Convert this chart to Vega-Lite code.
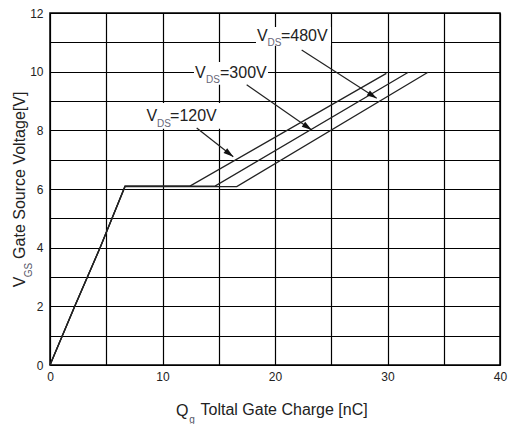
{
  "$schema": "https://vega.github.io/schema/vega-lite/v6.json",
  "autosize": {"type": "none"},
  "padding": {"left": 50, "top": 13, "right": 9, "bottom": 59},
  "width": 450,
  "height": 352,
  "background": "white",
  "config": {
    "view": {"stroke": "#000", "strokeWidth": 1.5},
    "font": "Liberation Sans",
    "text": {"font": "Liberation Sans"}
  },
  "datasets": {
    "curves": [
      {"series": "120V", "Q": 0, "V": 0},
      {"series": "120V", "Q": 2.2, "V": 2.0},
      {"series": "120V", "Q": 4.45, "V": 4.0},
      {"series": "120V", "Q": 6.67, "V": 6.1},
      {"series": "120V", "Q": 12.44, "V": 6.1},
      {"series": "120V", "Q": 29.9, "V": 9.94},
      {"series": "300V", "Q": 0, "V": 0},
      {"series": "300V", "Q": 2.2, "V": 2.0},
      {"series": "300V", "Q": 4.45, "V": 4.0},
      {"series": "300V", "Q": 6.67, "V": 6.1},
      {"series": "300V", "Q": 14.67, "V": 6.1},
      {"series": "300V", "Q": 31.85, "V": 9.98},
      {"series": "480V", "Q": 0, "V": 0},
      {"series": "480V", "Q": 2.2, "V": 2.0},
      {"series": "480V", "Q": 4.45, "V": 4.0},
      {"series": "480V", "Q": 6.67, "V": 6.08},
      {"series": "480V", "Q": 16.6, "V": 6.08},
      {"series": "480V", "Q": 33.6, "V": 9.98}
    ],
    "boxes": [
      {"name": "120V", "Q": 8.53, "Q2": 15.2, "V": 8.93, "V2": 8.05},
      {"name": "300V", "Q": 12.8, "Q2": 19.38, "V": 10.33, "V2": 9.55},
      {"name": "480V", "Q": 18.31, "Q2": 24.98, "V": 11.52, "V2": 10.88}
    ],
    "arrows": [
      {"name": "120V", "Q": 13.04, "V": 8.08, "Q2": 16.29, "V2": 7.1},
      {"name": "300V", "Q": 17.48, "V": 9.55, "Q2": 23.26, "V2": 8.01},
      {"name": "480V", "Q": 22.37, "V": 10.74, "Q2": 29.04, "V2": 9.09}
    ],
    "labels": [
      {"txt": "V", "kind": "main", "Q": 8.58, "V": 8.49},
      {"txt": "DS", "kind": "sub", "Q": 9.51, "V": 8.22},
      {"txt": "=120V", "kind": "main", "Q": 10.67, "V": 8.49},
      {"txt": "V", "kind": "main", "Q": 12.89, "V": 9.94},
      {"txt": "DS", "kind": "sub", "Q": 13.87, "V": 9.72},
      {"txt": "=300V", "kind": "main", "Q": 15.11, "V": 9.94},
      {"txt": "V", "kind": "main", "Q": 18.4, "V": 11.22},
      {"txt": "DS", "kind": "sub", "Q": 19.33, "V": 10.98},
      {"txt": "=480V", "kind": "main", "Q": 20.53, "V": 11.22},
      {"txt": "Q", "kind": "main", "Q": 11.2, "V": -1.58}
    ],
    "axissubs": [
      {"txt": "g", "dir": "h", "Q": 12.62, "V": -1.86},
      {"txt": "GS", "dir": "v", "Q": -1.87, "V": 3.24}
    ]
  },
  "encoding": {
    "x": {
      "field": "Q", "type": "quantitative",
      "scale": {"domain": [0, 40], "nice": false, "zero": false},
      "axis": {
        "title": "Toltal Gate Charge [nC]",
        "titleAlign": "left", "titleX": 150,
        "values": [0, 5, 10, 15, 20, 25, 30, 35, 40],
        "labelExpr": "datum.value % 10 === 0 ? datum.label : ''",
        "grid": true, "gridColor": "#000", "gridWidth": 1.2, "gridOpacity": 1,
        "ticks": false, "domain": false,
        "labelFont": "Liberation Sans", "labelFontSize": 12, "labelColor": "#222",
        "labelPadding": 6, "labelFlush": false,
        "titleFont": "Liberation Sans", "titleFontSize": 16, "titleFontWeight": "normal",
        "titleColor": "#222", "titlePadding": 19
      }
    },
    "y": {
      "field": "V", "type": "quantitative",
      "scale": {"domain": [0, 12], "nice": false, "zero": false},
      "axis": {
        "title": "V\u00a0\u00a0\u00a0\u00a0Gate Source Voltage[V]",
        "values": [0, 1, 2, 3, 4, 5, 6, 7, 8, 9, 10, 11, 12],
        "labelExpr": "datum.value % 2 === 0 ? datum.label : ''",
        "grid": true, "gridColor": "#000", "gridWidth": 1.2, "gridOpacity": 1,
        "ticks": false, "domain": false,
        "labelFont": "Liberation Sans", "labelFontSize": 12, "labelColor": "#222",
        "labelPadding": 7, "labelFlush": false,
        "titleFont": "Liberation Sans", "titleFontSize": 16, "titleFontWeight": "normal",
        "titleColor": "#222", "titlePadding": 2
      }
    }
  },
  "layer": [
    {
      "data": {"name": "boxes"},
      "mark": {"type": "rect", "fill": "white", "stroke": null},
      "encoding": {"x2": {"field": "Q2"}, "y2": {"field": "V2"}}
    },
    {
      "data": {"name": "curves"},
      "mark": {"type": "line", "color": "#222", "strokeWidth": 1.3},
      "encoding": {"detail": {"field": "series"}}
    },
    {
      "data": {"name": "arrows"},
      "mark": {"type": "rule", "color": "#222", "strokeWidth": 1.2},
      "encoding": {"x2": {"field": "Q2"}, "y2": {"field": "V2"}}
    },
    {
      "data": {"name": "arrows"},
      "transform": [{"filter": "datum.name === '120V'"}],
      "mark": {"type": "point", "shape": "M0,0L-1,-0.3L-1,0.3Z", "filled": true, "color": "#111", "opacity": 1, "size": 400, "angle": 38},
      "encoding": {"x": {"field": "Q2", "type": "quantitative"}, "y": {"field": "V2", "type": "quantitative"}}
    },
    {
      "data": {"name": "arrows"},
      "transform": [{"filter": "datum.name === '300V'"}],
      "mark": {"type": "point", "shape": "M0,0L-1,-0.3L-1,0.3Z", "filled": true, "color": "#111", "opacity": 1, "size": 400, "angle": 35},
      "encoding": {"x": {"field": "Q2", "type": "quantitative"}, "y": {"field": "V2", "type": "quantitative"}}
    },
    {
      "data": {"name": "arrows"},
      "transform": [{"filter": "datum.name === '480V'"}],
      "mark": {"type": "point", "shape": "M0,0L-1,-0.3L-1,0.3Z", "filled": true, "color": "#111", "opacity": 1, "size": 400, "angle": 33},
      "encoding": {"x": {"field": "Q2", "type": "quantitative"}, "y": {"field": "V2", "type": "quantitative"}}
    },
    {
      "data": {"name": "labels"},
      "transform": [{"filter": "datum.kind === 'main'"}],
      "mark": {"type": "text", "align": "left", "baseline": "middle", "fontSize": 16, "color": "#222", "font": "Liberation Sans"},
      "encoding": {"text": {"field": "txt"}}
    },
    {
      "data": {"name": "labels"},
      "transform": [{"filter": "datum.kind === 'sub'"}],
      "mark": {"type": "text", "align": "left", "baseline": "middle", "fontSize": 10, "color": "#667", "font": "Liberation Sans"},
      "encoding": {"text": {"field": "txt"}}
    },
    {
      "data": {"name": "axissubs"},
      "transform": [{"filter": "datum.dir === 'h'"}],
      "mark": {"type": "text", "align": "center", "baseline": "middle", "fontSize": 10, "color": "#556", "font": "Liberation Sans"},
      "encoding": {"text": {"field": "txt"}}
    },
    {
      "data": {"name": "axissubs"},
      "transform": [{"filter": "datum.dir === 'v'"}],
      "mark": {"type": "text", "align": "center", "baseline": "middle", "fontSize": 10, "angle": 270, "color": "#556", "font": "Liberation Sans"},
      "encoding": {"text": {"field": "txt"}}
    }
  ]
}
